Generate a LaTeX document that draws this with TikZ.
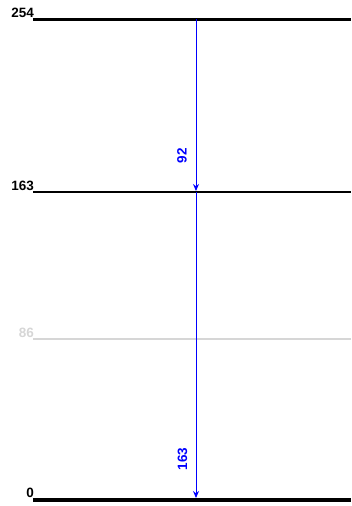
\documentclass[tikz,border=0pt]{standalone}
\usepackage{fontspec}
\setmainfont{Liberation Sans}
\usetikzlibrary{arrows.meta}
\definecolor{lvlgrey}{HTML}{D6D6D6}
\definecolor{arrblue}{HTML}{0000FF}
\tikzset{
  lvl/.style={anchor=base east, font=\bfseries\fontsize{13.5}{13.5}\selectfont, inner sep=0pt},
  tr/.style={arrblue, line width=1pt, -{Stealth[length=7pt,width=6pt]}},
  trlab/.style={font=\bfseries\fontsize{13.5}{13.5}\selectfont, text=arrblue, rotate=90, inner sep=0pt}
}
\begin{document}
\begin{tikzpicture}[x=1pt,y=-1pt]
\useasboundingbox (0,0) rectangle (351,506);
% levels
\coordinate (l254a) at (33,19); \coordinate (l254b) at (351,19);
\coordinate (l163a) at (33,192); \coordinate (l163b) at (351,192);
\coordinate (l86a) at (33,339); \coordinate (l86b) at (351,339);
\coordinate (l0a) at (33,500); \coordinate (l0b) at (351,500);
\draw[line width=3pt] (l254a) -- (l254b);
\draw[line width=1.5pt] (l163a) -- (l163b);
\draw[line width=2pt, lvlgrey] (l86a) -- (l86b);
\draw[line width=4pt] (l0a) -- (l0b);
\node[lvl] (t254) at (34,17.5) {254};
\node[lvl] (t163) at (34,190.5) {163};
\node[lvl, text=lvlgrey] (t86) at (34,337.5) {86};
\node[lvl] (t0) at (34,497.5) {0};
% transitions
\coordinate (a1) at (196,19);
\coordinate (b1) at (196,191);
\coordinate (a2) at (196,192);
\coordinate (b2) at (196,498);
\draw[tr] (a1) -- (b1);
\draw[tr] (a2) -- (b2);
\node[trlab] (n92) at (182,155.5) {92};
\node[trlab] (n163) at (182.5,459) {163};
\end{tikzpicture}
\end{document}
